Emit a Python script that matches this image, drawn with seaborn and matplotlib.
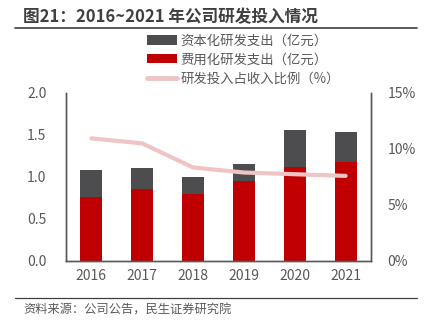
import numpy as np
import pandas as pd
import matplotlib
matplotlib.use("Agg")
import matplotlib.pyplot as plt
from matplotlib.patches import Patch
from matplotlib.lines import Line2D
import seaborn as sns

sns.set_style("white")
plt.rcParams['font.family'] = ['Noto Sans CJK SC', 'DejaVu Sans']

years = ["2016", "2017", "2018", "2019", "2020", "2021"]
expensed = [0.76, 0.86, 0.80, 0.95, 1.12, 1.18]      # 费用化研发支出（亿元）
capitalized = [0.32, 0.25, 0.20, 0.21, 0.44, 0.36]   # 资本化研发支出（亿元）
ratio = [10.95, 10.5, 8.35, 7.9, 7.75, 7.6]          # 研发投入占收入比例（%）

df = pd.DataFrame({"year": years, "expensed": expensed, "capitalized": capitalized})
df["total"] = df["expensed"] + df["capitalized"]

c_dark = "#4d4d4f"
c_red = "#c00000"
c_pink = "#f0c4c4"
c_text = "#595959"
c_axis = "#595959"

fig = plt.figure(figsize=(4.27, 3.27), dpi=100)
ax = fig.add_axes([66 / 427, 1 - 261 / 327, (371 - 66) / 427, (261 - 93) / 327])

sns.barplot(data=df, x="year", y="total", color=c_dark, width=0.43,
            saturation=1, edgecolor="none", linewidth=0, ax=ax)
sns.barplot(data=df, x="year", y="expensed", color=c_red, width=0.43,
            saturation=1, edgecolor="none", linewidth=0, ax=ax)
ax.set_ylim(0, 2.0)
ax.set_yticks([0, 0.5, 1.0, 1.5, 2.0])
ax.set_yticklabels(["0.0", "0.5", "1.0", "1.5", "2.0"])
ax.set_xlim(-0.5, 5.5)
ax.set_xlabel("")
ax.set_ylabel("")

ax2 = ax.twinx()
sns.lineplot(x=np.arange(len(years)), y=ratio, color=c_pink, linewidth=3,
             ax=ax2)
ax2.set_ylim(0, 15)
ax2.set_yticks([0, 5, 10, 15])
ax2.set_yticklabels(["0%", "5%", "10%", "15%"])
ax2.set_xlim(-0.5, 5.5)

for a in (ax, ax2):
    a.tick_params(axis="both", length=0, labelsize=10, labelcolor=c_text, pad=6)
    a.spines["top"].set_visible(False)
    for s in ("left", "right", "bottom"):
        a.spines[s].set_color(c_axis)
        a.spines[s].set_linewidth(1.0)
ax.tick_params(axis="y", pad=14)
ax2.tick_params(axis="y", pad=12)

handles = [
    Patch(facecolor=c_dark, edgecolor="none", label="资本化研发支出（亿元）"),
    Patch(facecolor=c_red, edgecolor="none", label="费用化研发支出（亿元）"),
    Line2D([0], [0], color=c_pink, linewidth=3.5, label="研发投入占收入比例（%）"),
]
fig.legend(handles=handles, loc="upper left", bbox_to_anchor=(140 / 427, 1 - 27 / 327),
           frameon=False, fontsize=9.6, labelcolor=c_text, handlelength=2.3,
           handleheight=0.7, handletextpad=0.25, labelspacing=0.36, borderpad=0)

fig.text(23 / 427, 1 - 17 / 327, "图21：2016~2021 年公司研发投入情况",
         fontsize=12, fontweight="bold", color="#404040", va="center")
fig.add_artist(Line2D([15 / 427, 1 - 10 / 427], [1 - 28 / 327] * 2,
                      color="#404040", linewidth=1.2, transform=fig.transFigure))
fig.add_artist(Line2D([15 / 427, 1 - 10 / 427], [1 - 298 / 327] * 2,
                      color="#404040", linewidth=0.9, transform=fig.transFigure))
fig.text(23 / 427, 1 - 310 / 327, "资料来源：公司公告，民生证券研究院",
         fontsize=8.8, color=c_text, va="center")

fig.savefig("out.png", dpi=100)
